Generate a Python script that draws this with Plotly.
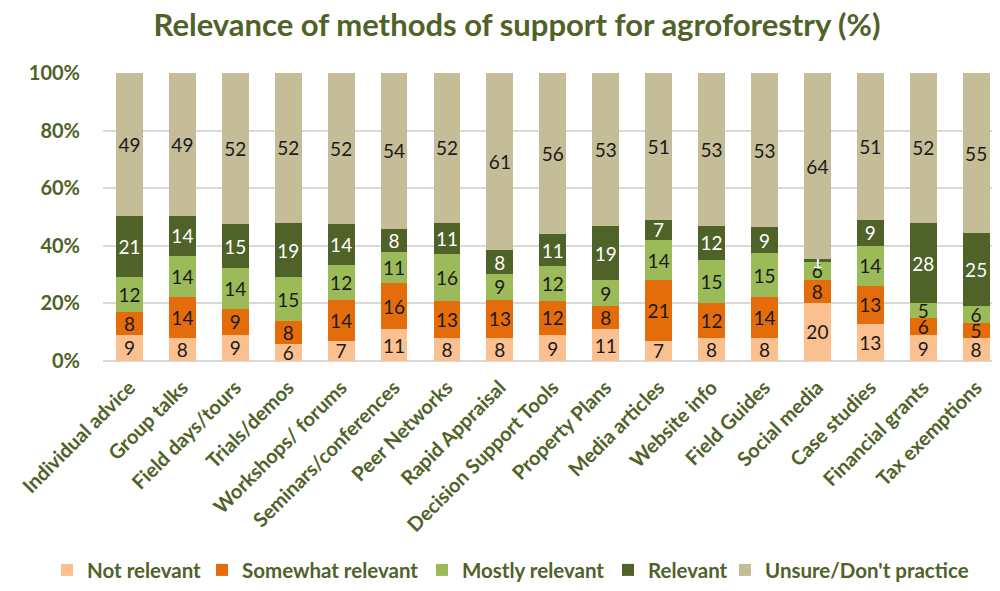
import plotly.graph_objects as go

categories = ["Individual advice", "Group talks", "Field days/tours", "Trials/demos",
              "Workshops/ forums", "Seminars/conferences", "Peer Networks", "Rapid Appraisal",
              "Decision Support Tools", "Property Plans", "Media articles", "Website info",
              "Field Guides", "Social media", "Case studies", "Financial grants", "Tax exemptions"]

not_relevant = [9, 8, 9, 6, 7, 11, 8, 8, 9, 11, 7, 8, 8, 20, 13, 9, 8]
somewhat_relevant = [8, 14, 9, 8, 14, 16, 13, 13, 12, 8, 21, 12, 14, 8, 13, 6, 5]
mostly_relevant = [12, 14, 14, 15, 12, 11, 16, 9, 12, 9, 14, 15, 15, 6, 14, 5, 6]
relevant = [21, 14, 15, 19, 14, 8, 11, 8, 11, 19, 7, 12, 9, 1, 9, 28, 25]
unsure = [49, 49, 52, 52, 52, 54, 52, 61, 56, 53, 51, 53, 53, 64, 51, 52, 55]

series_names = ["Not relevant", "Somewhat relevant", "Mostly relevant", "Relevant",
                "Unsure/Don't practice"]
series_values = [not_relevant, somewhat_relevant, mostly_relevant, relevant, unsure]
series_colors = ["#FAC090", "#E46C0A", "#9BBB59", "#4F6228", "#C4BD97"]
label_colors = ["#1a1a1a", "#1a1a1a", "#1a1a1a", "#ffffff", "#1a1a1a"]
# horizontal position (px in the figure) of each legend entry
legend_px = [39, 194, 414, 600, 717]

GREEN = "#4F6228"
FONT = "Lato"
W, H = 984, 575  # page body has an 8px margin; keep the page free of scrollbars

fig = go.Figure()
legend_layouts = {}
for i, (name, vals, color, tcolor) in enumerate(zip(series_names, series_values,
                                                     series_colors, label_colors)):
    lname = "legend" if i == 0 else f"legend{i + 1}"
    fig.add_trace(go.Bar(
        x=categories, y=vals, name=name, legend=lname,
        marker=dict(color=color, line=dict(width=0)),
        text=[str(v) for v in vals],
        textposition="inside", insidetextanchor="middle",
        textangle=0, constraintext="none",
        textfont=dict(family=FONT, size=19, color=tcolor),
    ))
    legend_layouts[lname] = dict(
        orientation="h", xref="container", x=legend_px[i] / W, xanchor="left",
        y=-0.726, yanchor="middle", bgcolor="rgba(0,0,0,0)",
        font=dict(family=FONT, size=20.5, color=GREEN, weight="bold"),
        itemwidth=30,
    )

fig.update_layout(
    barmode="stack", barnorm="percent", bargap=0.494,
    width=W, height=H,
    margin=dict(l=95, r=0, t=65, b=222, autoexpand=False),
    paper_bgcolor="white", plot_bgcolor="white",
    title=dict(text="<b>Relevance of methods of support for agroforestry (%)</b>",
               x=509 / W, xref="container", xanchor="center", y=1 - 17 / H, yanchor="middle",
               font=dict(family=FONT, size=31, color=GREEN)),
    uniformtext=dict(minsize=19, mode="show"),
    font=dict(family=FONT, color=GREEN),
    showlegend=True,
    **legend_layouts,
)
fig.update_xaxes(range=[-0.5, 16.3], tickangle=-45, showgrid=False, showline=False,
                 automargin=False, ticklabelstandoff=10,
                 tickfont=dict(family=FONT, size=20, color=GREEN, weight="bold"),
                 ticks="")
fig.update_yaxes(range=[0, 100], dtick=20, ticksuffix="%", showgrid=True, automargin=False,
                 gridcolor="#D9D9D9", gridwidth=1.5, zeroline=True, zerolinecolor="#D9D9D9",
                 zerolinewidth=1.5, ticklabelstandoff=22,
                 tickfont=dict(family=FONT, size=20, color=GREEN, weight="bold"))

fig.write_html("out.html")
